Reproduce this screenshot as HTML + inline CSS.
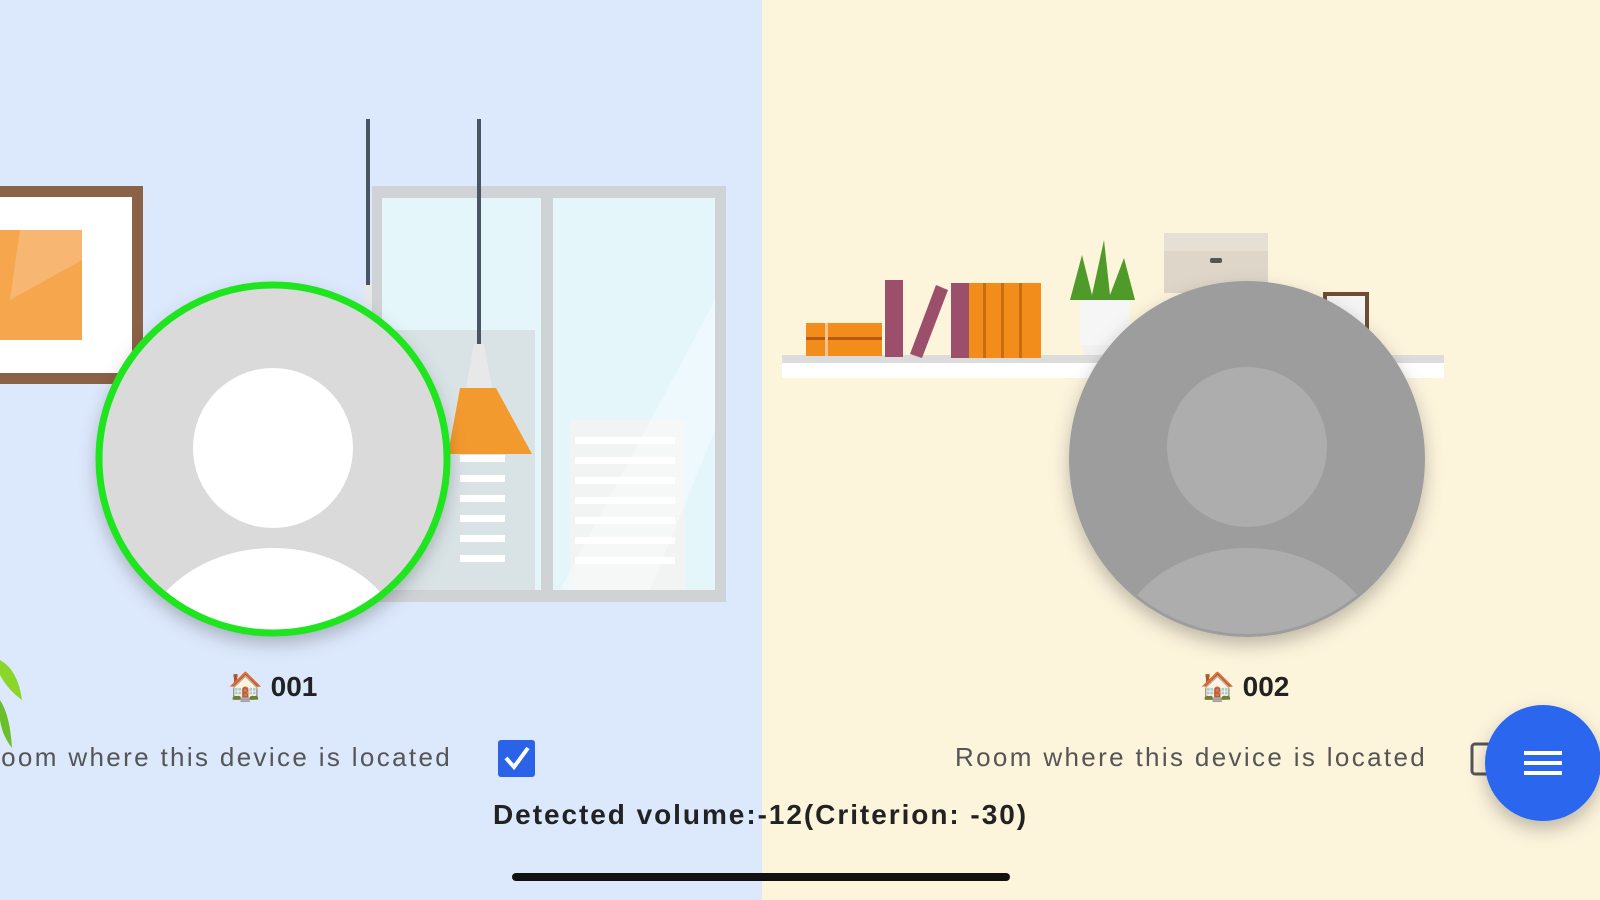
<!DOCTYPE html>
<html><head><meta charset="utf-8"><style>
html,body{margin:0;padding:0;width:1600px;height:900px;overflow:hidden;font-family:"Liberation Sans","Noto Sans CJK JP",sans-serif}
.t{position:absolute;white-space:nowrap}
</style></head><body>
<svg width="1600" height="900" style="position:absolute;left:0;top:0">
<defs>
<filter id="sh" x="-20%" y="-20%" width="140%" height="150%"><feDropShadow dx="0" dy="8" stdDeviation="9" flood-color="#000" flood-opacity="0.25"/></filter>
</defs>
<rect x="0" y="0" width="762" height="900" fill="#dce8fc"/>
<rect x="762" y="0" width="838" height="900" fill="#fdf4dc"/>
<rect x="-10" y="186" width="153" height="198" fill="#8a6245"/>
<rect x="-10" y="197" width="142" height="176" fill="#fff"/>
<rect x="-10" y="230" width="92" height="110" fill="#f6a74e"/>
<polygon points="20,230 82,230 82,260 10,300" fill="#f9c08a" opacity="0.6"/>
<rect x="372" y="186" width="354" height="416" fill="#cfd3d6"/>
<rect x="382" y="198" width="159" height="392" fill="#e4f6fa"/>
<rect x="553" y="198" width="162" height="392" fill="#e4f6fa"/>
<rect x="395" y="330" width="140" height="260" fill="#d9e3e6"/>
<rect x="570" y="420" width="115" height="170" fill="#f2f4f4"/>
<g fill="#fff">
<rect x="575" y="437" width="100" height="7"/><rect x="575" y="457" width="100" height="7"/><rect x="575" y="477" width="100" height="7"/><rect x="575" y="497" width="100" height="7"/><rect x="575" y="517" width="100" height="7"/><rect x="575" y="537" width="100" height="7"/><rect x="575" y="557" width="100" height="7"/>
<rect x="460" y="455" width="45" height="7"/><rect x="460" y="475" width="45" height="7"/><rect x="460" y="495" width="45" height="7"/><rect x="460" y="515" width="45" height="7"/><rect x="460" y="535" width="45" height="7"/><rect x="460" y="555" width="45" height="7"/>
</g>
<polygon points="560,590 650,590 715,430 715,300" fill="#fff" opacity="0.35"/>
<rect x="366" y="119" width="4" height="170" fill="#4a5563"/>
<rect x="477" y="119" width="4" height="225" fill="#4a5563"/>
<rect x="364" y="285" width="8" height="20" fill="#e8e8e8"/>
<polygon points="474,344 484,344 492,388 466,388" fill="#e8e8e8"/>
<polygon points="460,388 496,388 532,454 448,454" fill="#f39a2e"/>
<path d="M0,660 Q18,670 22,700 Q8,690 0,675Z" fill="#8bd62a"/>
<path d="M0,700 Q10,715 12,748 Q2,735 0,720Z" fill="#6bbf2a"/>
<rect x="782" y="355" width="662" height="8" fill="#dcdcdc"/>
<rect x="782" y="363" width="662" height="15" fill="#fff"/>
<rect x="806" y="323" width="76" height="33" fill="#f28c1a"/>
<rect x="806" y="337" width="76" height="3" fill="#b85a10"/>
<rect x="825" y="323" width="3" height="33" fill="#f8c48a"/>
<rect x="885" y="280" width="18" height="77" fill="#9b4f6a"/>
<polygon points="910,354 922,358 948,290 936,285" fill="#9b4f6a"/>
<rect x="951" y="283" width="18" height="75" fill="#9b4f6a"/>
<rect x="969" y="283" width="72" height="75" fill="#f28c1a"/>
<g fill="#c86d10"><rect x="983" y="283" width="3" height="75"/><rect x="1001" y="283" width="3" height="75"/><rect x="1019" y="283" width="3" height="75"/></g>
<polygon points="1080,340 1130,340 1125,355 1085,355" fill="#f2f2f2"/>
<rect x="1080" y="300" width="50" height="45" fill="#f6f6f6"/>
<path d="M1070,300 L1082,255 L1092,295 L1104,240 L1110,295 L1124,258 L1135,300Z" fill="#4f9a28"/>
<rect x="1164" y="233" width="104" height="60" fill="#ded6c8"/>
<rect x="1164" y="233" width="104" height="18" fill="#e6dfd3"/>
<rect x="1210" y="258" width="12" height="5" rx="2" fill="#555"/>
<rect x="1323" y="292" width="46" height="50" fill="#6b4e33"/>
<rect x="1327" y="296" width="38" height="44" fill="#f4f4f4"/>
<g filter="url(#sh)">
<circle cx="273" cy="459" r="176" fill="#dadada"/>
<circle cx="1247" cy="459" r="178" fill="#9d9d9d"/>
</g>
<clipPath id="c1"><circle cx="273" cy="459" r="173"/></clipPath>
<clipPath id="c2"><circle cx="1247" cy="459" r="175"/></clipPath>
<g clip-path="url(#c1)"><circle cx="273" cy="448" r="80" fill="#fff"/><ellipse cx="273" cy="660" rx="135" ry="112" fill="#fff"/></g>
<circle cx="273" cy="459" r="174" fill="none" stroke="#1fe51f" stroke-width="7"/>
<g clip-path="url(#c2)"><circle cx="1247" cy="447" r="80" fill="#adadad"/><ellipse cx="1247" cy="660" rx="135" ry="112" fill="#adadad"/></g>
<rect x="498" y="740" width="37" height="37" rx="3" fill="#2a63e8"/>
<polyline points="506,758 514,767 528,748" fill="none" stroke="#fff" stroke-width="4"/>
<rect x="1472" y="744" width="30" height="30" rx="3" fill="none" stroke="#555" stroke-width="3"/>
<circle cx="1543" cy="763" r="58" fill="#2a66ee" filter="url(#sh)"/>
<g fill="#fff"><rect x="1524" y="751" width="38" height="4"/><rect x="1524" y="761" width="38" height="4"/><rect x="1524" y="771" width="38" height="4"/></g>
<rect x="512" y="873" width="498" height="8" rx="4" fill="#111"/>
</svg>
<div class="t" style="left:228px;top:670px;font-size:28px;font-weight:bold;color:#222">🏠 001</div>
<div class="t" style="left:1200px;top:670px;font-size:28px;font-weight:bold;color:#222">🏠 002</div>
<div class="t" style="left:-20px;top:742px;font-size:26px;color:#555;letter-spacing:2.35px">Room where this device is located</div>
<div class="t" style="left:955px;top:742px;font-size:26px;color:#555;letter-spacing:2.35px">Room where this device is located</div>
<div class="t" style="left:493px;top:799px;font-size:28px;font-weight:bold;color:#222;letter-spacing:1.95px">Detected volume:-12(Criterion: -30)</div>
</body></html>
